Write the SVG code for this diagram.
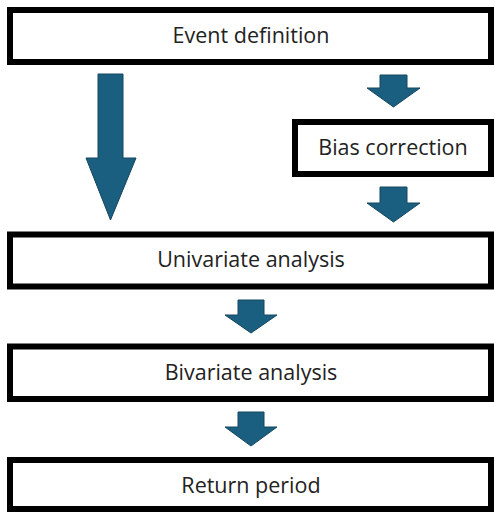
<svg xmlns="http://www.w3.org/2000/svg" width="494" height="512" viewBox="0 0 494 512">
<style>
.box{fill:#fff;stroke:#000;stroke-width:6}
.lbl{font-family:"Open Sans","Liberation Sans",Arial,sans-serif;font-size:21.5px;fill:#222;text-anchor:middle}
.arr{fill:#1a5e80;stroke:#15465e;stroke-width:1}
</style>
<rect width="494" height="512" fill="#fff"/>
<g id="connectors">
<path class="arr" d="M98,74 H123 V158 H136 L110.5,220 L86,158 H98 Z"/>
<path class="arr" d="M380,75 H407 V88 H420 L393.5,107 L367,88 H380 Z"/>
<path class="arr" d="M380,187 H407 V203 H420 L393.5,222 L367,203 H380 Z"/>
<path class="arr" d="M238,300 H264 V315 H277 L251,333 L225,315 H238 Z"/>
<path class="arr" d="M238,412 H264 V427 H277 L251,446 L225,427 H238 Z"/>
</g>
<g id="event-definition">
<rect class="box" x="10" y="10" width="481" height="52"/>
<text class="lbl" x="251" y="43">Event definition</text>
</g>
<g id="bias-correction">
<rect class="box" x="295" y="122" width="196" height="52"/>
<text class="lbl" x="393" y="155">Bias correction</text>
</g>
<g id="univariate-analysis">
<rect class="box" x="10" y="234.5" width="481" height="52"/>
<text class="lbl" x="251" y="267">Univariate analysis</text>
</g>
<g id="bivariate-analysis">
<rect class="box" x="10" y="346.5" width="481" height="52.5"/>
<text class="lbl" x="251" y="380">Bivariate analysis</text>
</g>
<g id="return-period">
<rect class="box" x="10" y="460" width="481" height="49"/>
<text class="lbl" x="251" y="493">Return period</text>
</g>
</svg>
